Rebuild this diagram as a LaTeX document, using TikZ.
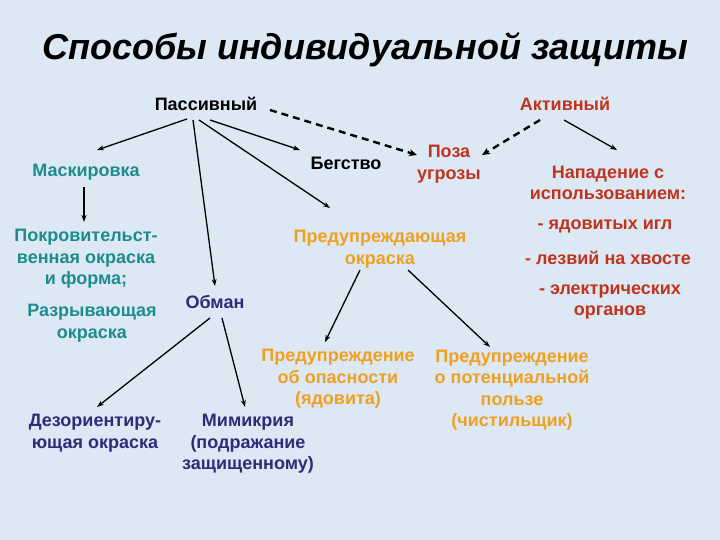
\documentclass[tikz,border=0pt]{standalone}
\usepackage{fontspec}
\setmainfont{Liberation Sans}
\usetikzlibrary{arrows.meta}
\definecolor{bgblue}{HTML}{DCE8F4}
\definecolor{tealtxt}{HTML}{1E8C8C}
\definecolor{redtxt}{HTML}{C0341E}
\definecolor{orangetxt}{HTML}{F0A020}
\definecolor{navytxt}{HTML}{2C2C78}
\tikzset{
  txt/.style={align=center, inner sep=1pt, font=\fontsize{18}{21.5}\selectfont\bfseries},
  arr/.style={line width=1.3pt, -{Stealth[length=7pt,width=5pt]}},
  dasharr/.style={line width=2.4pt, dash pattern=on 7pt off 5pt, -{Stealth[length=8pt,width=7pt]}}
}
\begin{document}
\begin{tikzpicture}[x=1pt, y=-1pt]
        \fill [bgblue] (0,0) rectangle (720,540);                              %background
        \node (title) at (365,50) {\fontsize{36}{42}\selectfont\bfseries\itshape Способы индивидуальной защиты};
        \node [txt]                  (pass)   at (206,104) {Пассивный};      %
        \node [txt, redtxt]          (akt)    at (565,104) {Активный};       %
        \node [txt, tealtxt]         (mask)   at (86,172)  {Маскировка};     %
        \node [txt]                  (beg)    at (346,163) {Бегство};        %
        \node [txt, redtxt]          (poza)   at (449,164) {Поза\\угрозы};   %
        \node [txt, redtxt]          (napad)  at (608,183) {Нападение с\\использованием:};
        \node [txt, redtxt]          (igl)    at (605,226) {- ядовитых игл}; %
        \node [txt, redtxt]          (lezv)   at (608,258) {- лезвий на хвосте};
        \node [txt, redtxt]          (elektr) at (610,302) {- электрических\\органов};
        \node [txt, tealtxt]         (pokr)   at (86,259)  {Покровительст-\\венная окраска\\и форма;};
        \node [txt, tealtxt]         (razr)   at (92,323)  {Разрывающая\\окраска};
        \node [txt, orangetxt]       (predok) at (380,249) {Предупреждающая\\окраска};
        \node [txt, navytxt]         (obman)  at (215,302) {Обман};          %
        \node [txt, orangetxt]       (pred1)  at (338,379) {Предупреждение\\об опасности\\(ядовита)};
        \node [txt, orangetxt]       (pred2)  at (512,390) {Предупреждение\\о потенциальной\\пользе\\(чистильщик)};
        \node [txt, navytxt]         (dez)    at (95,433)  {Дезориентиру-\\ющая окраска};
        \node [txt, navytxt]         (mim)    at (248,444) {Мимикрия\\(подражание\\защищенному)};
        % passive branch
        \draw [arr] ([shift={(-19,15)}]pass.center) -- ([shift={(11,-22)}]mask.center);
        \draw [arr] ([shift={(-13,16)}]pass.center) -- ([shift={(0,-16)}]obman.center);
        \draw [arr] ([shift={(4,16)}]pass.center)   -- ([shift={(-46,-13)}]beg.center);
        \draw [arr] ([shift={(-7,16)}]pass.center)  -- ([shift={(-50,-41)}]predok.center);
        \draw [dasharr] ([shift={(64,6)}]pass.center) -- ([shift={(-32,-9)}]poza.center);
        % active branch
        \draw [dasharr] ([shift={(-25,16)}]akt.center) -- ([shift={(33,-9)}]poza.center);
        \draw [arr] ([shift={(-1,16)}]akt.center)   -- ([shift={(9,-33)}]napad.center);
        % lower level
        \draw [arr] ([shift={(-2,15)}]mask.center)  -- ([shift={(-2,-37)}]pokr.center);
        \draw [arr] ([shift={(-20,21)}]predok.center) -- ([shift={(-13,-37)}]pred1.center);
        \draw [arr] ([shift={(28,21)}]predok.center)  -- ([shift={(-22,-43)}]pred2.center);
        \draw [arr] ([shift={(-5,16)}]obman.center) -- ([shift={(2,-26)}]dez.center);
        \draw [arr] ([shift={(7,16)}]obman.center)  -- ([shift={(-3,-37)}]mim.center);
\end{tikzpicture}
\end{document}
